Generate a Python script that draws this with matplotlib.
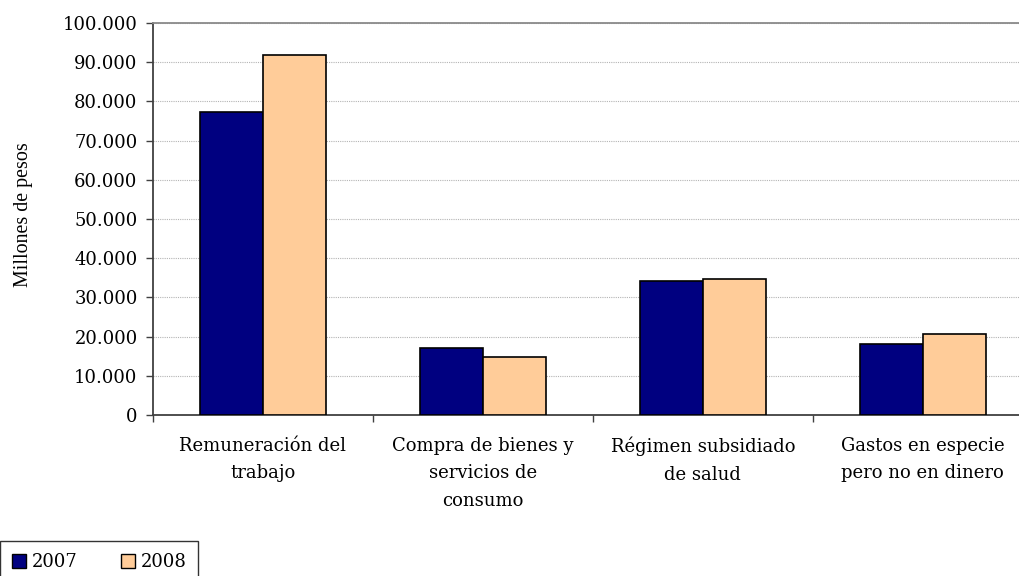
import matplotlib
matplotlib.use('Agg')
import matplotlib.pyplot as plt
import numpy as np
from matplotlib.patches import Patch

categories = ['Remuneración del\ntrabajo', 'Compra de bienes y\nservicios de\nconsumo',
              'Régimen subsidiado\nde salud', 'Gastos en especie\npero no en dinero']
years = ['2007', '2008']
values_2007 = [77400, 17000, 34300, 18200]
values_2008 = [91800, 14800, 34700, 20700]
yticks = np.arange(0, 100001, 10000)
ytick_labels = [f"{v:,}".replace(',', '.') for v in yticks]

colors = ['#000080', '#FFCC99']
tick_font = 'DejaVu Serif'
fs = 13

fig = plt.figure(figsize=(10.19, 5.76), dpi=100)
ax = fig.add_axes([0.150, 0.2795, 0.8636, 0.6805])

x = np.arange(len(categories))
w = 0.286
ax.bar(x - w / 2, values_2007, w, color=colors[0], edgecolor='black', linewidth=1.2, zorder=3)
ax.bar(x + w / 2, values_2008, w, color=colors[1], edgecolor='black', linewidth=1.2, zorder=3)

ax.set_xlim(-0.5, len(categories) - 0.5)
ax.set_ylim(0, 100000)

# y axis
ax.set_yticks(yticks)
ax.set_yticklabels(ytick_labels, fontsize=fs, family=tick_font)
ax.yaxis.grid(True, linestyle=(0, (1, 1)), color='#b4b4b4', linewidth=0.8, zorder=0)
ax.tick_params(axis='y', direction='out', length=5, width=1, color='#404040', pad=6)

# x axis: ticks on category boundaries, labels centered
ax.set_xticks(np.arange(-0.5, len(categories) - 0.4, 1.0))
ax.set_xticklabels([])
ax.tick_params(axis='x', direction='out', length=5, width=1, color='#404040')
for i, lab in enumerate(categories):
    ax.text(i, -5600, lab, ha='center', va='top', fontsize=fs, family=tick_font,
            linespacing=1.68)

for s in ['left', 'bottom']:
    ax.spines[s].set_color('#404040')
    ax.spines[s].set_linewidth(1.3)
ax.spines['top'].set_color('#8a8a8a')
ax.spines['top'].set_linewidth(1.3)
ax.spines['right'].set_visible(False)

ax.set_ylabel('Millones de pesos', fontsize=14.4, family='Liberation Serif')
ax.yaxis.set_label_coords(-0.136, 0.51)

handles = [Patch(facecolor=c, edgecolor='black', linewidth=1.0) for c in colors]
leg = fig.legend(handles, years, loc='lower left', bbox_to_anchor=(0.0, -0.012),
                 ncol=2, frameon=True, fancybox=False, borderaxespad=0,
                 prop={'family': tick_font, 'size': fs}, handlelength=0.8,
                 handleheight=0.8, handletextpad=0.3, columnspacing=2.4,
                 borderpad=0.65)
leg.get_frame().set_edgecolor('black')
leg.get_frame().set_linewidth(1.0)

fig.savefig('out.png', dpi=100)
